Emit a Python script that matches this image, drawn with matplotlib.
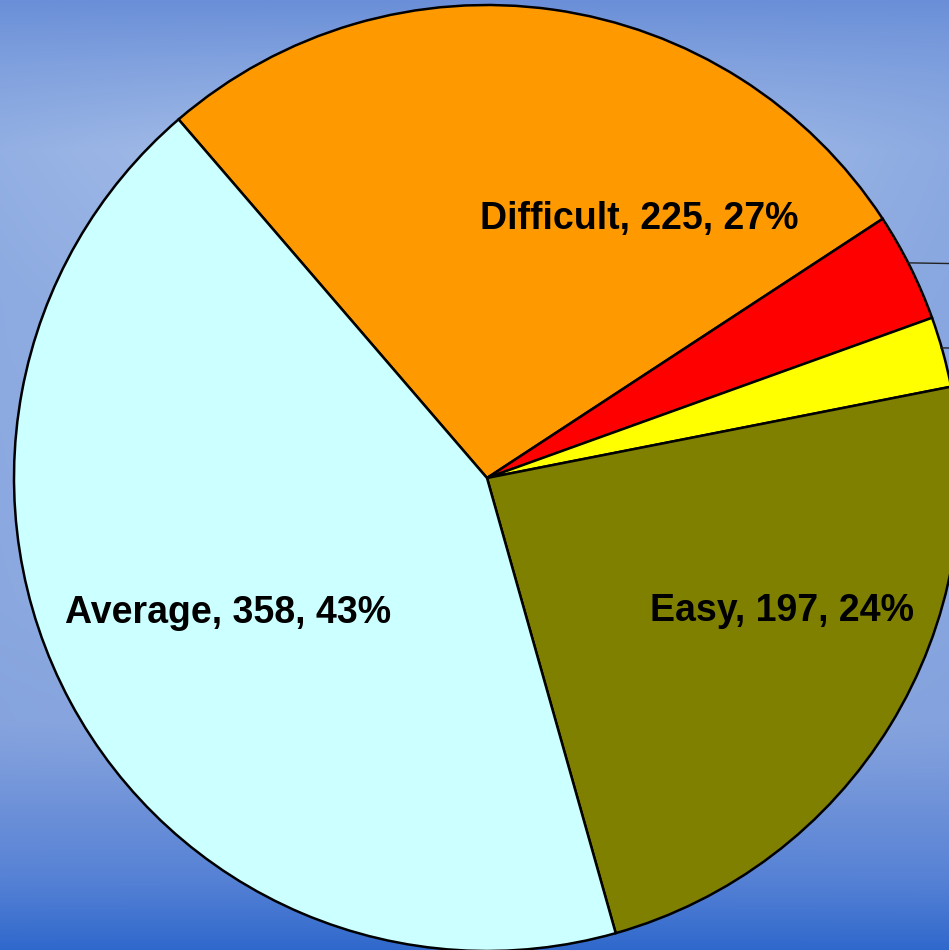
import numpy as np
import matplotlib
matplotlib.use("Agg")
import matplotlib.pyplot as plt

# slice data (clockwise from upper-left)
labels = ["Difficult", "", "", "Easy", "Average"]
values = [225, 31, 20, 197, 358]
colors = ["#FF9900", "#FF0000", "#FFFF00", "#808000", "#CCFFFF"]

W, H = 949, 950
fig = plt.figure(figsize=(W / 100, H / 100), dpi=100)

# background gradient
bg = fig.add_axes([0, 0, 1, 1])
yy = np.arange(H)
stops_y = [0, 150, 300, 600, 720, 800, 880, 950]
stops_c = np.array([[0x6a, 0x8f, 0xd8], [0xa8, 0xc0, 0xe9], [0x9c, 0xb6, 0xe5],
                    [0x94, 0xaf, 0xe2], [0x8c, 0xa8, 0xdf], [0x70, 0x93, 0xd9],
                    [0x55, 0x81, 0xd5], [0x2f, 0x68, 0xcc]]) / 255.0
col = np.stack([np.interp(yy, stops_y, stops_c[:, k]) for k in range(3)], axis=1)
xx = np.arange(W)
dark = np.array([0x6a, 0x8f, 0xd8]) / 255.0
fx = np.clip(np.abs(xx - 430) / 520.0, 0, 1) ** 1.5 * 0.45
wy = np.interp(yy, [0, 150, 700, 800, 950], [0.3, 1.0, 0.6, 0.1, 0.0])
img = col[:, None, :] * (1 - (fx[None, :] * wy[:, None])[..., None]) + \
    dark[None, None, :] * (fx[None, :] * wy[:, None])[..., None]
bg.imshow(img, aspect="auto", extent=[0, W, H, 0])
bg.axis("off")

ax = fig.add_axes([0, 0, 1, 1])
ax.set_xlim(0, W)
ax.set_ylim(0, H)
ax.set_aspect("equal")
ax.axis("off")

cx, cy, R = 487, H - 478, 473
wedges, _ = ax.pie(values, colors=colors, startangle=130.7, counterclock=False,
                   center=(cx, cy), radius=R, frame=True,
                   wedgeprops=dict(edgecolor="black", linewidth=1.8))
ax.set_xlim(0, W)
ax.set_ylim(0, H)
ax.axis("off")

total = sum(values)
pct = [round(100 * v / total) for v in values]

# leader lines for the two small slices (labels sit off to the right)
for i in (1, 2):
    w = wedges[i]
    a = np.deg2rad((w.theta1 + w.theta2) / 2)
    x0, y0 = cx + R * np.cos(a), cy + R * np.sin(a)
    ax.plot([x0 - 2, x0 + 120], [y0 + 4, y0 + 2], color="#222222", lw=1.0,
            clip_on=True)

txt = dict(fontsize=27, fontweight="bold", family="Liberation Sans",
           ha="center", va="center", color="black")
ax.text(cx + 152, cy + 259, f"{labels[0]}, {values[0]}, {pct[0]}%", **txt)
ax.text(cx + 295, cy - 133, f"{labels[3]}, {values[3]}, {pct[3]}%", **txt)
ax.text(cx - 259, cy - 135, f"{labels[4]}, {values[4]}, {pct[4]}%", **txt)

fig.savefig("out.png", dpi=100)
